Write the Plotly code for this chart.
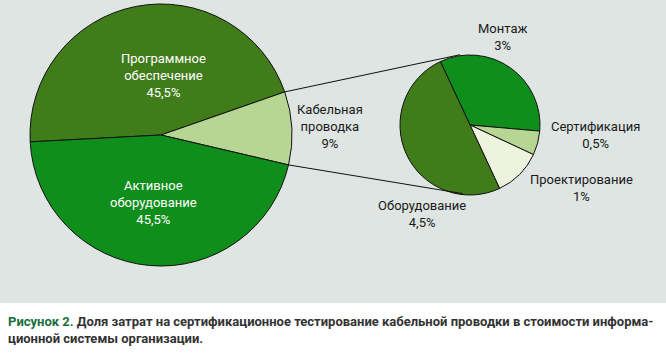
import math
import plotly.graph_objects as go

W, H = 666, 355

# ---- data ----
main_labels = ["Программное<br>обеспечение", "Кабельная<br>проводка", "Активное<br>оборудование"]
main_values = [45.5, 9.0, 45.5]
sub_labels = ["Монтаж", "Сертификация", "Проектирование", "Оборудование"]
sub_values = [3.0, 0.5, 1.0, 4.5]
caption_head = "Рисунок 2."
caption_text = ("Доля затрат на сертификационное тестирование кабельной проводки в стоимости информа-<br>"
                "ционной системы организации.")

# ---- style ----
FONT = "Roboto, Liberation Sans Narrow, DejaVu Sans Condensed, sans-serif"
main_colors = ["#407d1a", "#b7d693", "#0f8e1c"]
sub_colors = ["#0f8e1c", "#b7d693", "#eef3de", "#407d1a"]
BG = "#dee5e3"

big_c, big_r = (161, 135), 131
small_c, small_r = (470, 125), 70
main_rot = 267
sub_rot = 335


def px(x):
    return x / W


def py(y):
    return 1 - y / H


def fmt(v):
    return f"{v:g}".replace(".", ",") + "%"


fig = go.Figure()
fig.add_trace(go.Pie(
    labels=main_labels, values=main_values, sort=False, direction="clockwise",
    rotation=main_rot, marker=dict(colors=main_colors, line=dict(color="#111", width=1)),
    textinfo="none", hoverinfo="skip", showlegend=False,
    domain=dict(x=[px(big_c[0] - big_r), px(big_c[0] + big_r)],
                y=[py(big_c[1] + big_r), py(big_c[1] - big_r)]),
))
fig.add_trace(go.Pie(
    labels=sub_labels, values=sub_values, sort=False, direction="clockwise",
    rotation=sub_rot, marker=dict(colors=sub_colors, line=dict(color="#111", width=1)),
    textinfo="none", hoverinfo="skip", showlegend=False,
    domain=dict(x=[px(small_c[0] - small_r), px(small_c[0] + small_r)],
                y=[py(small_c[1] + small_r), py(small_c[1] - small_r)]),
))

# connector lines from the cable slice edges to the secondary pie
tot = sum(main_values)
a0 = main_rot + 360 * main_values[0] / tot
a1 = a0 + 360 * main_values[1] / tot


def pt(c, r, ang):
    t = math.radians(ang)
    return c[0] + r * math.sin(t), c[1] - r * math.cos(t)


p_top = pt(big_c, big_r, a0)
p_bot = pt(big_c, big_r, a1)
q_top = pt(small_c, small_r + 1, -8)
q_bot = pt(small_c, small_r - 1, 186)

shapes = [
    dict(type="rect", xref="paper", yref="paper", x0=0, x1=1, y0=py(303), y1=1,
         fillcolor=BG, line=dict(width=0), layer="below"),
    dict(type="line", xref="paper", yref="paper", x0=px(p_top[0]), y0=py(p_top[1]),
         x1=px(q_top[0]), y1=py(q_top[1]), line=dict(color="#111", width=1)),
    dict(type="line", xref="paper", yref="paper", x0=px(p_bot[0]), y0=py(p_bot[1]),
         x1=px(q_bot[0]), y1=py(q_bot[1]), line=dict(color="#111", width=1)),
]

ann = []
main_pos = [(163, 76, "white"), (330, 127, "#1a1a1a"), (153, 202, "white")]
for lab, v, (x, y, col) in zip(main_labels, main_values, main_pos):
    ann.append(dict(x=px(x), y=py(y), xref="paper", yref="paper", showarrow=False,
                    text=f"{lab}<br>{fmt(v)}", font=dict(family=FONT, size=13, color=col),
                    align="center", xanchor="center", yanchor="middle"))
sub_pos = [(502, 37), (595, 135), (581, 188), (422, 214)]
for lab, v, (x, y) in zip(sub_labels, sub_values, sub_pos):
    ann.append(dict(x=px(x), y=py(y), xref="paper", yref="paper", showarrow=False,
                    text=f"{lab}<br>{fmt(v)}", font=dict(family=FONT, size=13, color="#1a1a1a"),
                    align="center", xanchor="center", yanchor="middle"))
ann.append(dict(x=px(6), y=py(312), xref="paper", yref="paper", showarrow=False,
                text=f"<b><span style='color:#18703a'>{caption_head}</span> {caption_text}</b>",
                font=dict(family=FONT, size=13, color="#333333"),
                align="left", xanchor="left", yanchor="top"))

fig.update_layout(
    width=W, height=H, margin=dict(l=0, r=0, t=0, b=0),
    paper_bgcolor="white", plot_bgcolor="white",
    shapes=shapes, annotations=ann,
)
fig.write_html("out.html", config={"displayModeBar": False},
               post_script="document.body.style.margin='0';")
